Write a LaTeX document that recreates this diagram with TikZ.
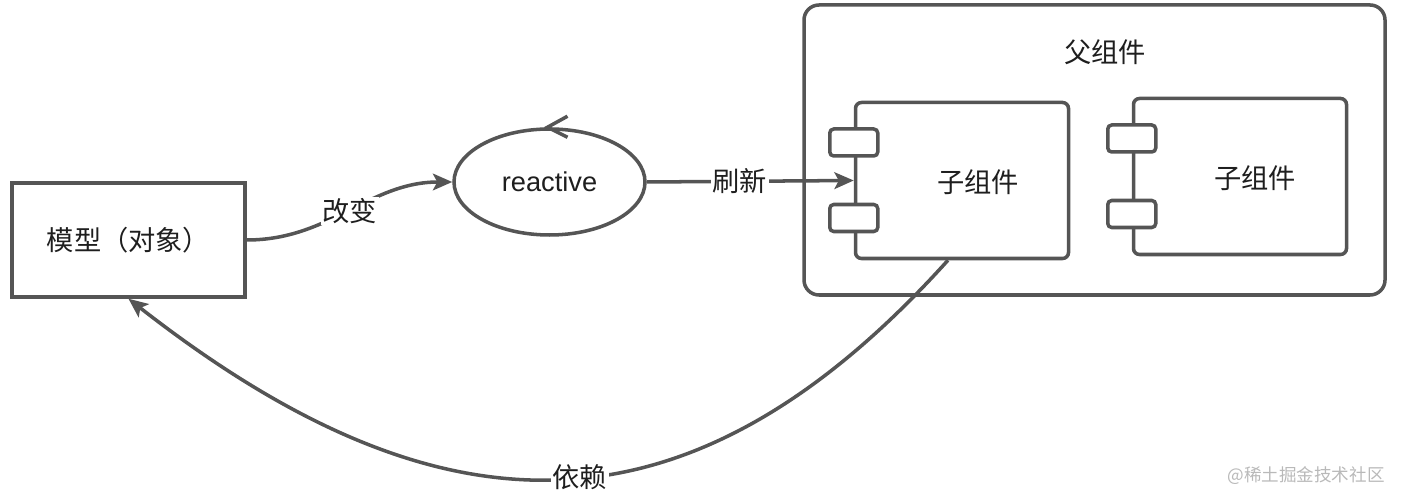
\documentclass[tikz,border=0pt]{standalone}
\usepackage{fontspec}
\setmainfont{Noto Sans CJK SC}
\newfontfamily\latinfont{Liberation Sans}
\usetikzlibrary{shapes,arrows.meta,positioning}

\definecolor{linegray}{HTML}{555555}
\definecolor{textgray}{HTML}{1e1e1e}

\begin{document}
\begin{tikzpicture}[
    line/.style={draw=linegray, line width=2pt},
    arr/.style={line, -{Stealth[length=11pt,width=9.5pt,inset=2.5pt]}},
    every node/.style={text=textgray, font=\fontsize{15.5}{18}\selectfont},
    comp/.style={line, rounded corners=0.12cm, fill=white, minimum width=4.26cm, minimum height=3.12cm},
    port/.style={line, rounded corners=0.08cm, fill=white, minimum width=0.96cm, minimum height=0.54cm, inner sep=0pt},
    lbl/.style={fill=white, inner sep=1pt}
]
    \useasboundingbox (0,0) rectangle (28.04,10.08);

    % Model
    \node[line, minimum width=4.66cm, minimum height=2.28cm] (model) at (2.57,5.28) {模型（对象）};

    % reactive
    \node[line, ellipse, minimum width=3.82cm, minimum height=2.12cm] (reactive) at (10.99,6.44) {\latinfont reactive};
    \draw[line] ([xshift=0.36cm,yshift=0.22cm]reactive.north) -- ([xshift=-0.04cm]reactive.north) -- ([xshift=0.36cm,yshift=-0.2cm]reactive.north);

    % Parent component
    \node[line, rounded corners=0.3cm, minimum width=11.62cm, minimum height=5.8cm] (parent) at (21.89,7.08) {};
    \node (parentlabel) at (22.1,9.04) {父组件};

    % Child components
    \node[comp] (child1) at (19.24,6.47) {};
    \node[comp] (child2) at (24.8,6.55) {};
    \node (child1label) at ([xshift=0.32cm,yshift=-0.03cm]child1.center) {子组件};
    \node (child2label) at ([xshift=0.3cm,yshift=-0.03cm]child2.center) {子组件};
    \foreach \c in {child1,child2} {
        \node[port] (\c top) at ([yshift=0.76cm]\c.west) {};
        \node[port] (\c bottom) at ([yshift=-0.75cm]\c.west) {};
    }

    % Arrows
    \draw[arr] (model.east) to[out=0,in=180] node[lbl] (change) {改变} (reactive.west);
    \draw[arr] (reactive.east) -- node[lbl,pos=0.45] (refresh) {刷新} (child1.west);
    \draw[arr] (child1.-100) to[out=-132,in=-38,looseness=1.22] node[lbl,pos=0.47] (depend) {依赖} (model.south);

    % Watermark
    \node[text=gray!55, font=\fontsize{10}{12}\selectfont] (mark) at (26.12,0.56) {@稀土掘金技术社区};
\end{tikzpicture}
\end{document}
